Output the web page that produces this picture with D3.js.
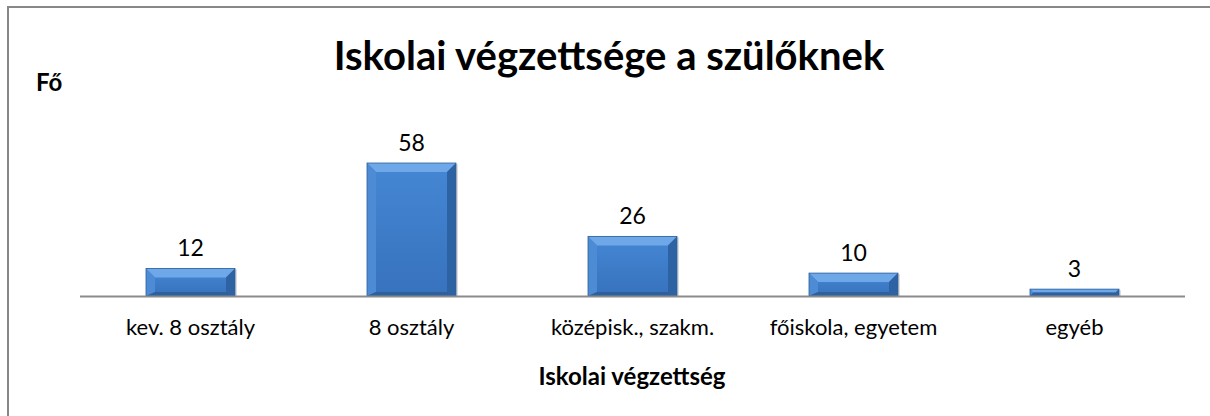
<!DOCTYPE html>
<html>
<head>
<meta charset="utf-8">
<script src="https://cdn.jsdelivr.net/npm/d3@7"></script>
<style>
  body { margin: 0; background: #fff; }
  text { font-family: Lato, "Open Sans", sans-serif; fill: #000; }
</style>
</head>
<body>
<div class="chart"></div>
<script>
// chart data
const categories = ['kev. 8 osztály', '8 osztály', 'középisk., szakm.', 'főiskola, egyetem', 'egyéb']
const values = [12, 58, 26, 10, 3]
const chartTitle = 'Iskolai végzettsége a szülőknek'
const yTitle = 'Fő'
const xTitle = 'Iskolai végzettség'

const W = 1210, H = 416
const margin = { top: 0, left: 80, right: 25 }
const baseY = 296

const svg = d3.select('.chart').append('svg')
  .attr('width', W)
  .attr('height', H)

// chart area border (top + left visible, rest runs off the picture)
svg.append('rect')
  .attr('x', 8).attr('y', 7)
  .attr('width', W + 10).attr('height', H + 10)
  .attr('fill', 'none')
  .attr('stroke', '#888')
  .attr('stroke-width', 2)

const xScale = d3.scaleBand()
  .domain(categories)
  .range([margin.left, W - margin.right])
  .paddingInner(0.6)
  .paddingOuter(0.3)

const yScale = d3.scaleLinear()
  .domain([0, 58])
  .range([baseY, 163])

// gradient for the bar face
const defs = svg.append('defs')
const face = defs.append('linearGradient').attr('id', 'face')
  .attr('x1', 0).attr('x2', 0).attr('y1', 0).attr('y2', 1)
face.append('stop').attr('offset', '0%').attr('stop-color', '#4587d4')
face.append('stop').attr('offset', '100%').attr('stop-color', '#3772bd')

const g = svg.append('g')

const bar = g.selectAll('.bar')
  .data(values)
  .join('g')
    .attr('class', 'bar')

bar.each(function (d, i) {
  const el = d3.select(this)
  const x0 = xScale(categories[i]) + (xScale.bandwidth() - 89) / 2
  const x1 = x0 + 89
  const y0 = yScale(d)
  const y1 = yScale(0)
  const h = y1 - y0
  const b = Math.min(9, h / 2)
  const bb = Math.min(4, h / 2)
  const poly = pts => pts.map(p => p.join(',')).join(' ')
  // soft shadow
  el.append('rect')
    .attr('x', x0 + 1).attr('y', y0 + 1)
    .attr('width', x1 - x0 + 1).attr('height', h)
    .attr('fill', '#bbb').attr('opacity', 0.5)
  // face
  el.append('rect')
    .attr('x', x0).attr('y', y0)
    .attr('width', x1 - x0).attr('height', h)
    .attr('fill', 'url(#face)')
  // bevel edges
  el.append('polygon')
    .attr('points', poly([[x0, y0], [x1, y0], [x1 - b, y0 + b], [x0 + b, y0 + b]]))
    .attr('fill', '#6ea8e8')
  el.append('polygon')
    .attr('points', poly([[x0, y0], [x0 + b, y0 + b], [x0 + b, y1 - bb], [x0, y1]]))
    .attr('fill', '#4d8cd5')
  el.append('polygon')
    .attr('points', poly([[x1, y0], [x1 - b, y0 + b], [x1 - b, y1 - bb], [x1, y1]]))
    .attr('fill', '#2d62a3')
  el.append('polygon')
    .attr('points', poly([[x0, y1], [x0 + b, y1 - bb], [x1 - b, y1 - bb], [x1, y1]]))
    .attr('fill', '#2e609e')
  el.append('rect')
    .attr('x', x0).attr('y', y0)
    .attr('width', x1 - x0).attr('height', h)
    .attr('fill', 'none')
    .attr('stroke', '#2d5f9c').attr('stroke-width', 0.8)

  // value label
  el.append('text')
    .attr('x', (x0 + x1) / 2)
    .attr('y', y0 - 12)
    .attr('text-anchor', 'middle')
    .style('font-size', '23px')
    .text(d)
})

// x axis line
g.append('line')
  .attr('x1', margin.left).attr('x2', W - margin.right)
  .attr('y1', baseY + 0.5).attr('y2', baseY + 0.5)
  .attr('stroke', '#8c8c8c')
  .attr('stroke-width', 2)

// category labels
g.selectAll('.cat')
  .data(categories)
  .join('text')
    .attr('class', 'cat')
    .attr('x', d => xScale(d) + xScale.bandwidth() / 2)
    .attr('y', 335)
    .attr('text-anchor', 'middle')
    .style('font-size', '22px')
    .text(d => d)

// titles
svg.append('text')
  .attr('x', 609).attr('y', 70)
  .attr('text-anchor', 'middle')
  .style('font-size', '40px')
  .style('font-weight', 'bold')
  .text(chartTitle)

svg.append('text')
  .attr('x', 36).attr('y', 91)
  .style('font-size', '24px')
  .style('font-weight', 'bold')
  .text(yTitle)

svg.append('text')
  .attr('x', 632).attr('y', 385)
  .attr('text-anchor', 'middle')
  .style('font-size', '24px')
  .style('font-weight', 'bold')
  .text(xTitle)
</script>
</body>
</html>
